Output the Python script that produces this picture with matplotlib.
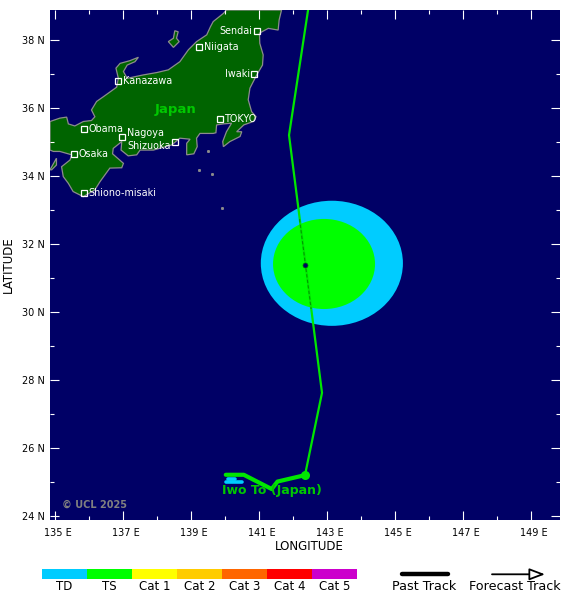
import matplotlib
matplotlib.use("Agg")
import matplotlib.pyplot as plt
from matplotlib.patches import Ellipse, Polygon, Rectangle
from matplotlib.transforms import ScaledTranslation

W, H = 580, 602
SEA = "#000066"
LAND = "#006400"
COAST = "#8c8c8c"
TRACK = "#00e600"
LABEL_GREEN = "#00c800"

honshu_lon = [134.84,135.13,135.33,135.38,135.57,135.82,136.06,136.16,136.06,136.21,136.41,136.80,136.85,136.78,136.90,137.19,137.44,137.34,137.11,137.00,137.11,137.58,137.98,138.32,138.66,138.91,139.15,139.45,139.56,139.64,139.94,140.03,141.65,141.58,141.55,141.26,141.00,141.01,141.11,141.09,140.92,140.72,140.67,140.77,140.90,140.82,140.54,140.33,140.48,140.43,140.13,139.94,139.92,140.03,140.18,139.94,139.74,139.72,139.64,139.25,139.15,139.17,139.07,138.86,138.86,138.96,138.66,138.42,137.88,137.49,137.39,137.14,136.93,136.95,136.70,136.68,137.00,136.95,136.60,136.31,136.16,135.82,135.52,135.38,135.23,135.18,135.43,135.48,135.13,134.94,134.84]
honshu_lat = [35.61,35.71,35.74,35.54,35.48,35.61,35.64,35.75,35.95,36.20,36.34,36.62,36.88,37.18,37.32,37.40,37.50,37.37,37.27,37.08,36.88,36.98,37.05,37.13,37.37,37.72,37.96,38.16,38.40,38.55,38.79,38.89,38.89,38.60,38.30,38.35,38.21,37.91,37.57,37.27,36.98,36.59,36.25,35.90,35.75,35.61,35.51,35.31,35.31,35.17,35.02,34.87,35.02,35.31,35.56,35.54,35.51,35.28,35.26,35.26,35.12,34.87,34.66,34.63,34.97,35.09,35.12,34.92,34.77,34.77,34.63,34.60,34.77,35.02,34.82,34.66,34.38,34.25,34.24,33.84,33.60,33.40,33.55,33.79,33.99,34.28,34.48,34.63,34.73,34.73,34.77]
shikoku_lon = [134.84,135.03,135.03,134.89]
shikoku_lat = [34.19,34.53,34.33,34.19]
sado_lon = [138.51,138.61,138.56,138.64,138.47,138.32,138.47]
sado_lat = [38.28,38.25,38.06,37.96,37.79,37.96,38.06]
islet_lon = [139.50,139.61,139.23,139.89]
islet_lat = [34.73,34.07,34.18,33.06]

forecast_lon = [142.43,141.87,142.84,142.34]
forecast_lat = [38.89,35.21,27.63,25.21]
past_lon = [142.34,141.53,141.36,140.54,140.01]
past_lat = [25.21,25.02,24.80,25.22,25.22]
td_lon = [[140.01,140.49],[140.07,140.28]]
td_lat = [[25.01,25.01],[25.11,25.11]]

cities = ["Sendai","Niigata","Iwaki","Kanazawa","TOKYO","Obama","Nagoya","Shizuoka","Osaka","Shiono-misaki"]
city_lon = [140.92,139.23,140.85,136.85,139.85,135.85,136.96,138.52,135.55,135.85]
city_lat = [38.26,37.79,37.00,36.79,35.68,35.39,35.15,35.00,34.65,33.50]
city_side = ["l","r","l","r","r","r","r","l","r","r"]
city_nudge = [0,0,0,0,0,0,3,-3,0,0]

x_major = [135,137,139,141,143,145,147,149]
x_minor = [136,138,140,142,144,146,148]
y_major = [24,26,28,30,32,34,36,38]
y_minor = [25,27,29,31,33,35,37]

cat_names = ["TD","TS","Cat 1","Cat 2","Cat 3","Cat 4","Cat 5"]
cat_colors = ["#00ccff","#00ff00","#ffff00","#ffcc00","#ff6600","#ff0000","#cc00cc"]

plt.rcParams["font.family"] = "DejaVu Sans"
fig = plt.figure(figsize=(W/100, H/100), dpi=100)
ax = fig.add_axes([50/W, 1-520/H, 510/W, 510/H])
ax.set_facecolor(SEA)
ax.set_xlim(134.84, 149.84)
ax.set_ylim(23.89, 38.89)
for s in ax.spines.values():
    s.set_visible(False)

for lons, lats in ((honshu_lon,honshu_lat),(shikoku_lon,shikoku_lat),(sado_lon,sado_lat)):
    ax.add_patch(Polygon(list(zip(lons,lats)), closed=True, fc=LAND, ec=COAST, lw=0.9, zorder=1))
ax.plot(islet_lon, islet_lat, ls="none", marker="s", ms=1.1, mfc=COAST, mec=COAST, zorder=1)

ax.add_patch(Ellipse((143.13,31.44), 4.18, 3.68, fc="#00ccff", ec="none", zorder=2))
ax.add_patch(Ellipse((142.90,31.42), 3.00, 2.65, fc="#00ff00", ec="none", zorder=3))

ax.plot(forecast_lon, forecast_lat, color=TRACK, lw=1.6, zorder=4, solid_joinstyle="miter")
ax.plot([142.18,142.52],[32.74,30.10], color="#009900", lw=0.8, ls=(0,(3,2)), zorder=5)
for lo, la in zip(td_lon, td_lat):
    ax.plot(lo, la, color="#00ccff", lw=2.6, zorder=5, solid_capstyle="round")
ax.plot(past_lon, past_lat, color=TRACK, lw=3, zorder=6, solid_capstyle="round", solid_joinstyle="round")
ax.plot(past_lon[:1], past_lat[:1], "o", color=TRACK, ms=6.5, mec="none", zorder=7)
ax.plot([142.34],[31.39], "o", ms=3.6, mfc=SEA, mec="#007700", mew=0.5, zorder=7)

ax.plot(city_lon, city_lat, ls="none", marker="s", ms=4.4, mfc="none", mec="white", mew=0.9, zorder=8)
for n, lo, la, side, dy in zip(cities, city_lon, city_lat, city_side, city_nudge):
    dx = 3.2 if side == "r" else -3.2
    ax.annotate(n, (lo, la), xytext=(dx, dy), textcoords="offset points",
                ha="left" if side == "r" else "right", va="center",
                color="white", fontsize=6.9, zorder=9)
ax.text(137.93, 35.95, "Japan", color=LABEL_GREEN, fontsize=9.5, fontweight="bold",
        ha="left", va="center", zorder=9)
ax.text(141.38, 24.77, "Iwo To (Japan)", color=LABEL_GREEN, fontsize=9, fontweight="bold",
        ha="center", va="center", zorder=9)
ax.text(135.2, 24.34, "\u00a9 UCL 2025", color="#808080", fontsize=7, fontweight="bold",
        ha="left", va="center", zorder=9)

ax.set_xticks(x_major)
ax.set_xticks(x_minor, minor=True)
ax.set_yticks(y_major)
ax.set_yticks(y_minor, minor=True)
ax.set_xticklabels([f"{v} E" for v in x_major])
ax.set_yticklabels([f"{v} N" for v in y_major])
ax.tick_params(which="major", direction="in", length=6.5, width=0.8, color="white",
               top=True, right=True, labelsize=7, labelcolor="black", pad=5.5)
ax.tick_params(which="minor", direction="in", length=3, width=0.8, color="white",
               top=True, right=True)
ax.tick_params(axis="y", which="major", pad=4)
shift = ScaledTranslation(0.02, 0, fig.dpi_scale_trans)
for lab in ax.get_xticklabels():
    lab.set_transform(lab.get_transform() + shift)
ax.set_xlabel("LONGITUDE", fontsize=8.5)
ax.xaxis.set_label_coords(259/510, -19.5/510)
ax.set_ylabel("LATITUDE", fontsize=8.5, va="center")
ax.yaxis.set_label_coords(-42/510, 0.5)

# legend strip, laid out in figure pixels
leg = fig.add_axes([0, 0, 1, 1], facecolor="none")
leg.set_xlim(0, W)
leg.set_ylim(H, 0)
leg.axis("off")
for i, (n, c) in enumerate(zip(cat_names, cat_colors)):
    leg.add_patch(Rectangle((42+45*i, 569), 45, 10, fc=c, ec="none"))
    leg.text(64.5+45*i, 587, n, ha="center", va="center", fontsize=8.5)
leg.plot([402, 448], [574.3, 574.3], color="black", lw=3.2, solid_capstyle="round")
leg.text(424, 587, "Past Track", ha="center", va="center", fontsize=9.2)
leg.annotate("", xy=(545, 574.3), xytext=(492, 574.3),
             arrowprops=dict(arrowstyle="-|>,head_length=0.63,head_width=0.24", color="black", fc="white",
                             lw=1.3, mutation_scale=15, shrinkA=0, shrinkB=0))
leg.text(514.5, 587, "Forecast Track", ha="center", va="center", fontsize=9.2)

fig.savefig("out.png", dpi=100)
